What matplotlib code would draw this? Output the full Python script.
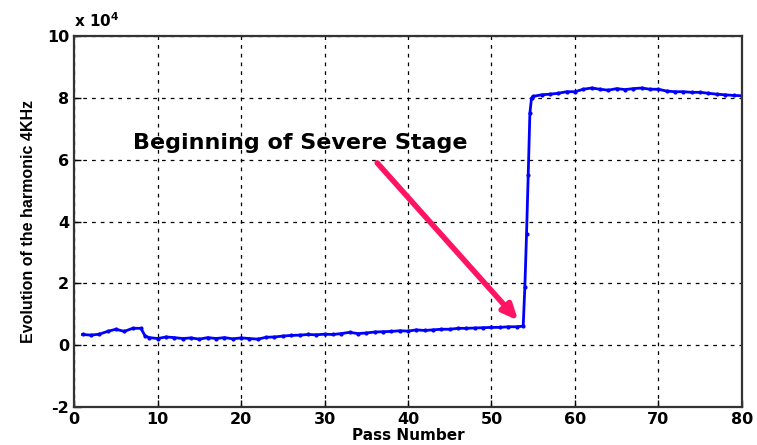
import numpy as np
import matplotlib
matplotlib.use('Agg')
import matplotlib.pyplot as plt

# pass number and harmonic amplitude (in units of 1e4)
passes = [1, 2, 3, 4, 5, 6, 7, 8, 8.5, 9, 10, 11, 12, 13, 14, 15, 16, 17, 18, 19, 20,
          21, 22, 23, 24, 25, 26, 27, 28, 29, 30, 31, 32, 33, 34, 35, 36, 37, 38, 39, 40,
          41, 42, 43, 44, 45, 46, 47, 48, 49, 50, 51, 52, 53, 53.8,
          54.0, 54.2, 54.4, 54.6, 54.8,
          55, 56, 57, 58, 59, 60, 61, 62, 63, 64, 65, 66, 67, 68, 69, 70,
          71, 72, 73, 74, 75, 76, 77, 78, 79, 80]
amp = [0.35, 0.33, 0.36, 0.45, 0.52, 0.45, 0.55, 0.55, 0.30, 0.25, 0.22, 0.27, 0.25, 0.22, 0.24, 0.20, 0.25, 0.22, 0.25, 0.21, 0.24,
       0.22, 0.20, 0.26, 0.27, 0.30, 0.32, 0.33, 0.35, 0.34, 0.36, 0.35, 0.38, 0.42, 0.38, 0.40, 0.43, 0.44, 0.45, 0.47, 0.46,
       0.50, 0.48, 0.50, 0.52, 0.52, 0.55, 0.55, 0.56, 0.57, 0.58, 0.58, 0.60, 0.60, 0.62,
       1.90, 3.60, 5.50, 7.50, 8.00,
       8.05, 8.10, 8.12, 8.15, 8.20, 8.20, 8.28, 8.32, 8.28, 8.25, 8.30, 8.27, 8.30, 8.32, 8.28, 8.28,
       8.22, 8.20, 8.20, 8.18, 8.18, 8.15, 8.12, 8.10, 8.08, 8.07]

xticks = [0, 10, 20, 30, 40, 50, 60, 70, 80]
yticks = [-2, 0, 2, 4, 6, 8, 10]

plt.rcParams['font.family'] = ['DejaVu Sans']
plt.rcParams['font.weight'] = 'bold'
plt.rcParams['axes.unicode_minus'] = False

fig = plt.figure(figsize=(7.57, 4.45), dpi=100)
ax = fig.add_axes([0.098, 0.085, 0.882, 0.834])

ax.plot(passes, amp, color='blue', lw=2.0, marker='.', ms=4)

ax.set_xlim(0, 80)
ax.set_ylim(-2, 10)
ax.set_xticks(xticks)
ax.set_yticks(yticks)
ax.text(0.0, 1.015, r'x 10$^4$', transform=ax.transAxes, fontsize=11,
        fontweight='bold', ha='left', va='bottom')

ax.grid(True, color='black', linestyle=(0, (3, 4)), lw=0.9)
ax.tick_params(direction='in', labelsize=11.5, length=5, width=1, top=False, right=False)
for lab in ax.get_xticklabels() + ax.get_yticklabels():
    lab.set_fontweight('bold')
for sp in ax.spines.values():
    sp.set_linewidth(1.6)
    sp.set_color('#333333')

ax.set_xlabel('Pass Number', fontsize=11, fontweight='bold', labelpad=1)
ax.set_ylabel('Evolution of the harmonic 4KHz', fontsize=11.5, fontweight='bold',
              labelpad=8, family='Liberation Sans')

ax.text(7, 6.55, 'Beginning of Severe Stage', fontsize=16, fontweight='bold',
        va='center', ha='left')
ax.annotate('', xy=(53.2, 0.8), xytext=(36.3, 5.9),
            arrowprops=dict(arrowstyle='-|>,head_width=0.4,head_length=0.9',
                            color='#ff1464', lw=4, shrinkA=0, shrinkB=0))

fig.savefig('out.png', dpi=100)
